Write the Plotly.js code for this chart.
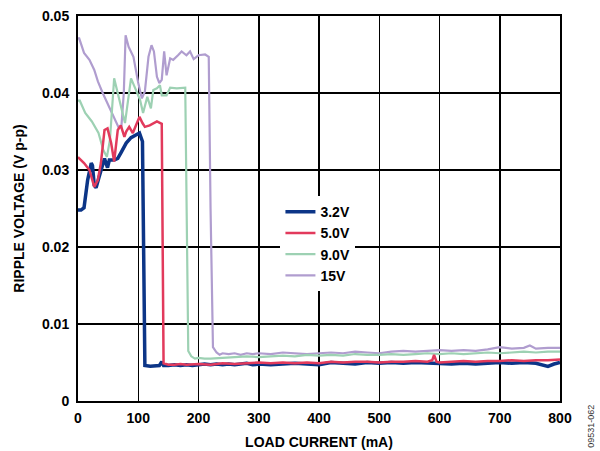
<!DOCTYPE html>
<html>
<head>
<meta charset="utf-8">
<script src="https://cdn.plot.ly/plotly-3.0.1.min.js"></script>
<style>html,body{margin:0;padding:0;background:#fff;}#chart{width:600px;height:451px;}</style>
</head>
<body>
<div id="chart"></div>
<script>
// Series names
const seriesNames = ["3.2V", "5.0V", "9.0V", "15V"];

// 3.2V
const x32 = [0,5,10,16,22,24,27,30,35,44,49,52,60,66,71,80,88,96,102,107,109,111,120,130,135,139,142,150,160,170,180,190,200,210,220,230,240,250,260,270,280,290,300,320,340,360,380,400,420,440,460,480,500,520,540,560,580,600,620,640,660,680,700,720,740,760,780,790,800];
const y32 = [0.0248,0.0248,0.0251,0.0287,0.0309,0.0306,0.0280,0.0277,0.0291,0.0315,0.0303,0.0313,0.0313,0.0315,0.0322,0.0335,0.0342,0.0345,0.0348,0.0337,0.0200,0.0046,0.0045,0.0046,0.0046,0.0051,0.0046,0.0046,0.0047,0.0046,0.0047,0.0046,0.0047,0.0048,0.0047,0.0048,0.0047,0.0048,0.0047,0.0048,0.0049,0.0047,0.0048,0.0047,0.0048,0.0049,0.0048,0.0047,0.0050,0.0049,0.0048,0.0050,0.0049,0.0050,0.0049,0.0050,0.0049,0.0048,0.0048,0.0049,0.0048,0.0049,0.0050,0.0049,0.0050,0.0049,0.0045,0.0048,0.0050];

// 5.0V
const x50 = [0,2,10,19,27,33,38,44,49,55,60,66,71,77,80,85,91,96,102,107,111,119,131,139,141,142,150,160,170,180,200,220,240,260,280,300,320,340,360,380,400,420,440,460,480,500,520,540,560,580,588,591,595,600,620,640,660,680,700,720,740,760,780,800];
const y50 = [0.0317,0.0315,0.0309,0.0300,0.0278,0.0287,0.0309,0.0352,0.0354,0.0335,0.0311,0.0352,0.0358,0.0343,0.0350,0.0356,0.0348,0.0358,0.0369,0.0361,0.0356,0.0358,0.0363,0.0360,0.0200,0.0049,0.0047,0.0047,0.0048,0.0047,0.0048,0.0047,0.0049,0.0048,0.0049,0.0050,0.0049,0.0050,0.0049,0.0050,0.0049,0.0051,0.0050,0.0051,0.0051,0.0050,0.0051,0.0051,0.0052,0.0051,0.0053,0.0060,0.0051,0.0050,0.0051,0.0052,0.0051,0.0052,0.0052,0.0053,0.0052,0.0053,0.0053,0.0054];

// 9.0V
const x90 = [0,3,12,23,34,42,48,53,60,67,72,78,88,95,103,108,115,121,125,131,136,139,147,153,164,178,180,183,188,194,200,210,220,240,260,280,300,320,340,360,380,400,420,440,460,480,500,520,540,560,580,600,620,640,660,680,700,720,740,760,780,800];
const y90 = [0.0390,0.0390,0.0374,0.0363,0.0348,0.0326,0.0317,0.0339,0.0419,0.0395,0.0378,0.0361,0.0419,0.0406,0.0391,0.0374,0.0395,0.0380,0.0404,0.0406,0.0410,0.0397,0.0397,0.0407,0.0406,0.0407,0.0250,0.0065,0.0058,0.0055,0.0056,0.0055,0.0055,0.0056,0.0057,0.0058,0.0057,0.0058,0.0059,0.0058,0.0060,0.0059,0.0060,0.0059,0.0061,0.0060,0.0060,0.0061,0.0060,0.0061,0.0062,0.0061,0.0062,0.0061,0.0062,0.0063,0.0062,0.0063,0.0064,0.0063,0.0064,0.0064];

// 15V
const x15 = [0,2,10,19,27,33,41,49,58,67,72,76,79,84,92,100,106,111,117,122,126,131,135,139,143,147,153,158,166,172,180,186,192,200,211,217,220,224,230,235,240,250,260,270,280,290,300,320,340,360,380,400,420,440,460,480,500,520,540,560,580,600,620,640,660,680,700,720,740,750,760,780,800];
const y15 = [0.0471,0.0471,0.0452,0.0443,0.0430,0.0415,0.0400,0.0387,0.0371,0.0356,0.0356,0.0400,0.0475,0.0460,0.0447,0.0413,0.0393,0.0402,0.0447,0.0462,0.0454,0.0421,0.0413,0.0417,0.0454,0.0423,0.0445,0.0443,0.0449,0.0454,0.0449,0.0454,0.0444,0.0449,0.0450,0.0447,0.0250,0.0070,0.0063,0.0060,0.0062,0.0061,0.0062,0.0060,0.0062,0.0061,0.0062,0.0061,0.0063,0.0062,0.0061,0.0062,0.0063,0.0062,0.0064,0.0063,0.0062,0.0064,0.0065,0.0064,0.0065,0.0066,0.0065,0.0066,0.0065,0.0067,0.0070,0.0068,0.0069,0.0072,0.0068,0.0069,0.0069];

// Tick labels
const yTickVals = [0, 0.01, 0.02, 0.03, 0.04, 0.05];
const yTickText = ["0", "0.01", "0.02", "0.03", "0.04", "0.05"];
const xTickVals = [0, 100, 200, 300, 400, 500, 600, 700, 800];

const FONT = "Liberation Sans, Arial, Helvetica, sans-serif";

const traces = [
  {x: x15, y: y15, name: seriesNames[3], legendrank: 4, mode: "lines", line: {color: "#b09dcf", width: 2.2}},
  {x: x90, y: y90, name: seriesNames[2], legendrank: 3, mode: "lines", line: {color: "#9dd1b3", width: 2.2}},
  {x: x32, y: y32, name: seriesNames[0], legendrank: 1, mode: "lines", line: {color: "#0c3587", width: 3.5}},
  {x: x50, y: y50, name: seriesNames[1], legendrank: 2, mode: "lines", line: {color: "#e23a5c", width: 2.5}}
];

const layout = {
  width: 600, height: 451,
  margin: {l: 78, r: 40, t: 16, b: 50},
  paper_bgcolor: "#fff", plot_bgcolor: "#fff",
  font: {family: FONT, color: "#000", size: 14},
  showlegend: true,
  legend: {
    x: 0.42, y: 0.532, xanchor: "left", yanchor: "top",
    bgcolor: "#fff", borderwidth: 0,
    font: {family: FONT, size: 14, weight: "bold", color: "#000"},
    tracegroupgap: 0, itemwidth: 30
  },
  xaxis: {
    range: [0, 800], tickvals: xTickVals, ticktext: xTickVals.map(String),
    showgrid: true, gridcolor: "#000", gridwidth: 1.5,
    showline: true, linecolor: "#000", linewidth: 2, mirror: true,
    ticks: "", zeroline: false, ticklabelstandoff: 3,
    tickfont: {family: FONT, size: 14, weight: "bold"},
    title: {text: "LOAD CURRENT (mA)", font: {family: FONT, size: 14, weight: "bold"}, standoff: 12}
  },
  yaxis: {
    range: [0, 0.05], tickvals: yTickVals, ticktext: yTickText,
    showgrid: true, gridcolor: "#000", gridwidth: 1.5,
    showline: true, linecolor: "#000", linewidth: 2, mirror: true,
    ticks: "", zeroline: false, ticklabelstandoff: 4,
    tickfont: {family: FONT, size: 14, weight: "bold"},
    title: {text: "RIPPLE VOLTAGE (V p-p)", font: {family: FONT, size: 14, weight: "bold"}, standoff: 14}
  },
  annotations: [{
    text: "09531-062", xref: "paper", yref: "paper", x: 1.065, y: -0.005, xanchor: "center", yanchor: "top",
    textangle: -90, showarrow: false, font: {family: FONT, size: 9, color: "#333"}
  }]
};

Plotly.newPlot("chart", traces, layout, {displayModeBar: false, staticPlot: true});
</script>
</body>
</html>
